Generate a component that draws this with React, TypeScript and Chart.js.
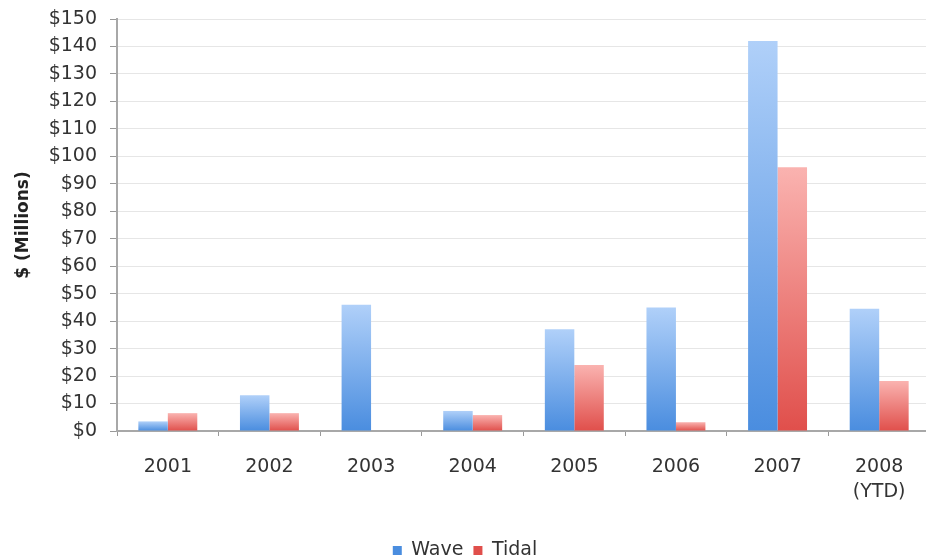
import React, { useEffect, useRef } from "react";
import { Chart, registerables } from "chart.js";

Chart.register(...registerables);

// Annual investment, $ millions
const years: string[][] = [
  ["2001"], ["2002"], ["2003"], ["2004"], ["2005"], ["2006"], ["2007"], ["2008", "(YTD)"],
];
const wave = [3.5, 13, 46, 7.3, 37, 45, 142, 44.5];
const tidal = [6.5, 6.5, 0, 5.8, 24, 3.2, 96, 18.2];

const Y_MIN = 0;
const Y_MAX = 150;
const Y_STEP = 10;

const FONT = "'DejaVu Sans', 'Liberation Sans', Arial, sans-serif";

// Vertical gradient for each bar, light at the top and deeper at the base.
function barFill(top: string, bottom: string, flat: string) {
  return (ctx: any) => {
    if (ctx.type !== "data") return flat;
    const chart = ctx.chart;
    const y = chart.scales && chart.scales.y;
    if (!y) return flat;
    const v = ctx.raw as number;
    const y0 = y.getPixelForValue(0);
    const y1 = y.getPixelForValue(v);
    if (!isFinite(y0) || !isFinite(y1) || Math.abs(y0 - y1) < 1) return flat;
    const g = chart.ctx.createLinearGradient(0, y1, 0, y0);
    g.addColorStop(0, top);
    g.addColorStop(1, bottom);
    return g;
  };
}

export default function App() {
  const canvasRef = useRef<HTMLCanvasElement | null>(null);

  useEffect(() => {
    const canvas = canvasRef.current;
    if (!canvas) return;
    const chart = new Chart(canvas, {
      type: "bar",
      data: {
        labels: years,
        datasets: [
          {
            label: "Wave",
            data: wave,
            backgroundColor: barFill("#b0d0f9", "#4a8ddf", "#5e9be6"),
            borderWidth: 0,
            barPercentage: 1,
            categoryPercentage: 0.58,
          },
          {
            label: "Tidal",
            data: tidal,
            backgroundColor: barFill("#fab3b0", "#e04f4b", "#e86a67"),
            borderWidth: 0,
            barPercentage: 1,
            categoryPercentage: 0.58,
          },
        ],
      },
      options: {
        responsive: false,
        animation: false,
        devicePixelRatio: 1,
        layout: { padding: { top: 19, right: 10, left: 0, bottom: 0 } },
        plugins: {
          tooltip: { enabled: false },
          legend: {
            position: "bottom",
            labels: {
              boxWidth: 9,
              boxHeight: 9,
              padding: 10,
              color: "#333",
              font: { family: FONT, size: 19 },
            },
          },
        },
        scales: {
          x: {
            grid: {
              display: true,
              drawOnChartArea: false,
              drawTicks: true,
              tickLength: 5,
              tickColor: "#999",
              offset: true,
            },
            border: { display: true, color: "#a8a8a8", width: 2 },
            ticks: {
              color: "#333",
              padding: 19,
              maxRotation: 0,
              autoSkip: false,
              font: { family: FONT, size: 19, lineHeight: 1.3 },
            },
            afterFit: (scale: any) => {
              scale.height = 100;
            },
          },
          y: {
            min: Y_MIN,
            max: Y_MAX,
            grid: {
              color: "#e6e6e6",
              lineWidth: 1,
              drawTicks: true,
              tickLength: 7,
              tickColor: "#999",
            },
            border: { display: true, color: "#a8a8a8", width: 2 },
            ticks: {
              stepSize: Y_STEP,
              color: "#333",
              padding: 13,
              font: { family: FONT, size: 19 },
              callback: (v: any) => "$" + v,
            },
            title: {
              display: true,
              text: "$ (Millions)",
              color: "#222",
              padding: { top: 13, bottom: 0 },
              font: { family: FONT, size: 17, weight: "bold" },
            },
            afterFit: (scale: any) => {
              scale.width = 117;
              scale.paddingTop = 0;
              scale.paddingBottom = 0;
            },
          },
        },
      },
    });
    return () => chart.destroy();
  }, []);

  return (
    <div
      style={{
        position: "fixed",
        left: 0,
        top: 0,
        width: 926,
        height: 558,
        overflow: "hidden",
        background: "#fff",
      }}
    >
      <canvas ref={canvasRef} width={940} height={570} style={{ width: 940, height: 570, display: "block" }} />
    </div>
  );
}
